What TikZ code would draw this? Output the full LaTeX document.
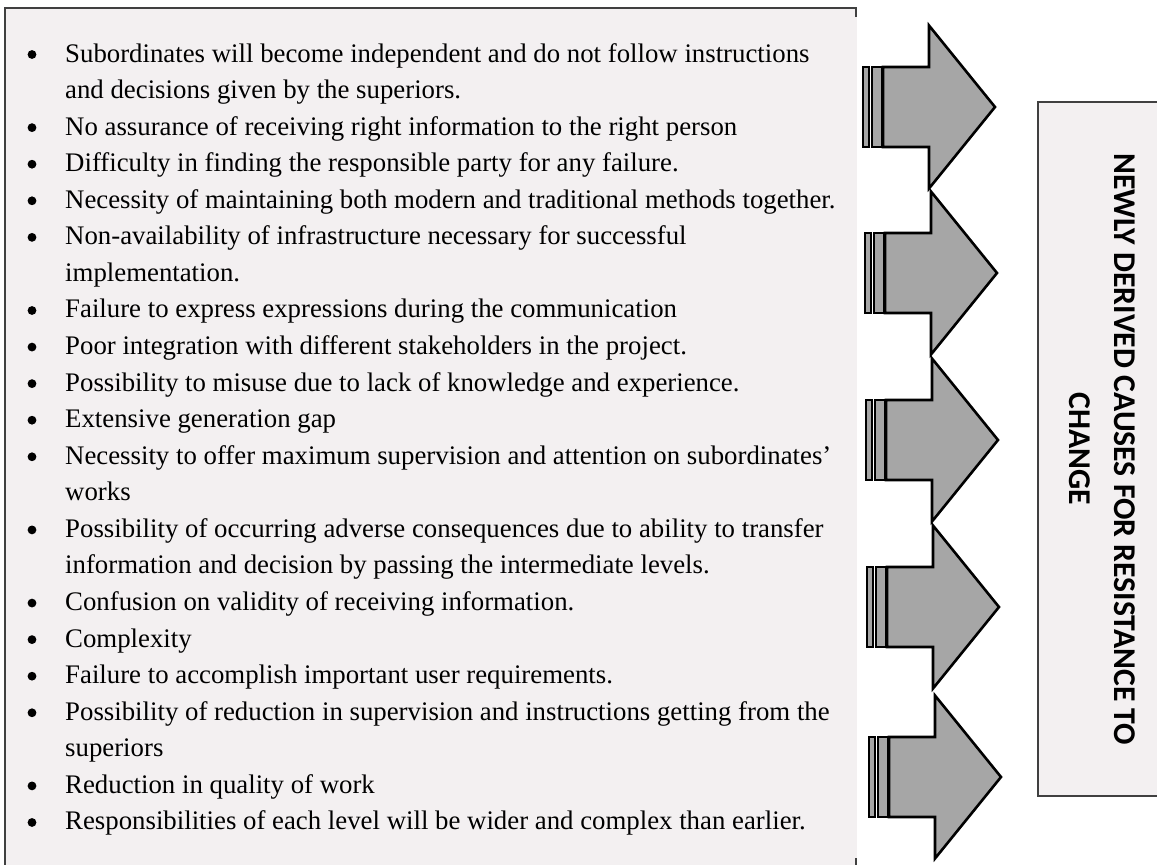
\documentclass[tikz,border=0pt]{standalone}
\usepackage{fontspec}
\setmainfont{Liberation Serif}
\newfontfamily\headfont{Carlito}
\definecolor{boxfill}{HTML}{F3F0F1}
\definecolor{boxline}{HTML}{404040}
\definecolor{arrowgray}{HTML}{A6A6A6}
\tikzset{
    listline/.style={anchor=base west, inner sep=0pt, font=\fontsize{26.8}{36.6}\selectfont},
    frame/.style={draw=boxline, line width=1.8pt},
    panel/.style={fill=boxfill},
    blockarrow/.style={fill=arrowgray, draw=black, line width=2.6pt, line join=miter},
    heading/.style={font=\headfont\bfseries\fontsize{31.7}{45}\selectfont, align=center, rotate=-90, inner sep=0pt},
    % block arrow with two stripes, origin at the base of the head
    pics/bigarrow/.style={code={
        \draw[blockarrow] (-66,-40) rectangle (-60,40);
        \draw[blockarrow] (-57,-40) rectangle (-47,40);
        \draw[blockarrow] (-46,-40) -- (0,-40) -- (0,-81.5) -- (66,0) -- (0,81.5) -- (0,40) -- (-46,40) -- cycle;
    }}
}

\begin{document}
\begin{tikzpicture}[x=1pt, y=-1pt]
    \useasboundingbox (0,0) rectangle (1157,865);

    % List panel
    \fill[panel] (5,8) rectangle (857,865);
    \draw[frame] (856,17) -- (856,8) -- (5,8) -- (5,865);
    \draw[frame] (856,858) -- (856,865);

    % List lines (1 = new bullet, 0 = continued line)
    \foreach \b/\txt [count=\i] in {
        1/Subordinates will become independent and do not follow instructions,
        0/and decisions given by the superiors.,
        1/No assurance of receiving right information to the right person,
        1/Difficulty in finding the responsible party for any failure.,
        1/Necessity of maintaining both modern and traditional methods together.,
        1/Non-availability of infrastructure necessary for successful,
        0/implementation.,
        1/Failure to express expressions during the communication,
        1/Poor integration with different stakeholders in the project.,
        1/Possibility to misuse due to lack of knowledge and experience.,
        1/Extensive generation gap,
        1/Necessity to offer maximum supervision and attention on subordinates’,
        0/works,
        1/Possibility of occurring adverse consequences due to ability to transfer,
        0/information and decision by passing the intermediate levels.,
        1/Confusion on validity of receiving information.,
        1/Complexity,
        1/Failure to accomplish important user requirements.,
        1/Possibility of reduction in supervision and instructions getting from the,
        0/superiors,
        1/Reduction in quality of work,
        1/Responsibilities of each level will be wider and complex than earlier.}
    {
        \pgfmathsetmacro{\ly}{62+36.57*(\i-1)}
        \node[listline] (line\i) at (65,\ly) {\txt};
        \ifnum\b=1
            \fill (32,\ly-7.5) circle (4.4);
        \fi
    }

    % Arrows
    \foreach \ax/\ay [count=\k] in {929/107, 931/273, 932/440, 933/607, 935/777}
        \pic (arrow\k) at (\ax,\ay) {bigarrow};

    % Heading panel
    \fill[panel] (1038,102) rectangle (1157,796);
    \draw[frame] (1157,102) -- (1038,102) -- (1038,796) -- (1157,796);
    \node[heading] (heading) at (1102,449) {NEWLY DERIVED CAUSES FOR RESISTANCE TO\\CHANGE};
\end{tikzpicture}
\end{document}
